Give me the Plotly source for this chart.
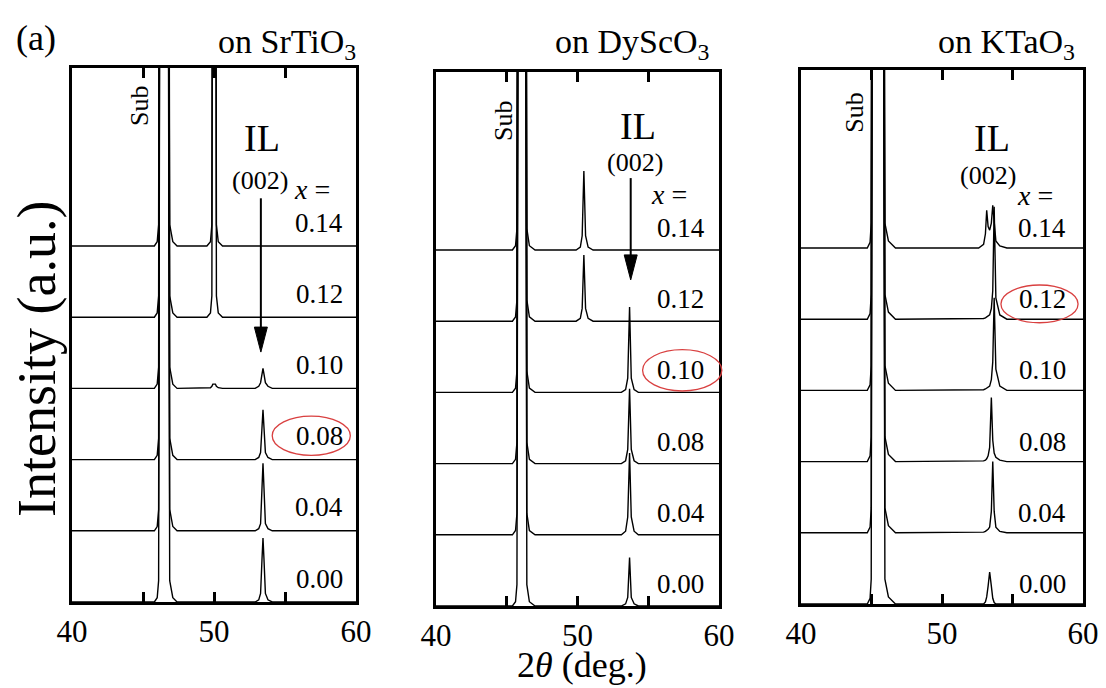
import plotly.graph_objects as go

# ---------------- data ----------------
compositions = ["0.00", "0.04", "0.08", "0.10", "0.12", "0.14"]
substrates = ["SrTiO<sub>3</sub>", "DyScO<sub>3</sub>", "KTaO<sub>3</sub>"]

# 2theta sampling points (deg) and intensity above each curve's own baseline
# (in units of the stacking step; values of 9 run off the top of the frame)
sto_two_theta = [40.0, 45.8, 46.0, 46.1, 46.18, 46.78, 46.88, 47.1, 47.4,
                 49.5, 49.75, 49.85, 49.92, 50.1, 50.17, 50.3, 50.6,
                 52.9, 53.15, 53.28, 53.38, 53.45, 53.52, 53.62, 53.8, 54.1, 60.0]
sto_x000 = [0, 0, 0.06, 0.3, 9, 9, 0.3, 0.06, 0,
            0, 0, 0, 0, 0, 0, 0, 0,
            0, 0.03, 0.12, 0.6, 0.9, 0.6, 0.12, 0.03, 0, 0]
sto_x004 = [0, 0, 0.06, 0.3, 9, 9, 0.3, 0.06, 0,
            0, 0, 0, 0, 0, 0, 0, 0,
            0, 0.03, 0.1, 0.6, 0.95, 0.6, 0.1, 0.03, 0, 0]
sto_x008 = [0, 0, 0.06, 0.3, 9, 9, 0.3, 0.06, 0,
            0, 0, 0, 0, 0, 0, 0, 0,
            0, 0.03, 0.1, 0.45, 0.7, 0.45, 0.1, 0.03, 0, 0]
sto_x010 = [0, 0, 0.06, 0.3, 9, 9, 0.3, 0.06, 0,
            0, 0.01, 0.03, 0.06, 0.06, 0.03, 0.01, 0,
            0, 0.03, 0.08, 0.18, 0.28, 0.2, 0.08, 0.03, 0, 0]
sto_x012 = [0, 0, 0.06, 0.3, 9, 9, 0.3, 0.06, 0,
            0, 0.06, 0.3, 9, 9, 0.3, 0.06, 0,
            0, 0, 0, 0, 0, 0, 0, 0, 0, 0]
sto_x014 = [0, 0, 0.06, 0.3, 9, 9, 0.3, 0.06, 0,
            0, 0.06, 0.3, 9, 9, 0.3, 0.06, 0,
            0, 0, 0, 0, 0, 0, 0, 0, 0, 0]

dso_two_theta = [40.0, 45.4, 45.62, 45.72, 45.8, 46.34, 46.42, 46.6, 47.0,
                 49.9, 50.2, 50.33, 50.45, 50.57, 50.75, 51.1,
                 53.1, 53.4, 53.55, 53.68, 53.8, 54.0, 54.3, 60.0]
dso_x000 = [0, 0, 0.06, 0.3, 9, 9, 0.3, 0.06, 0,
            0, 0, 0, 0, 0, 0, 0,
            0, 0.03, 0.12, 0.68, 0.12, 0.03, 0, 0]
dso_x004 = [0, 0, 0.06, 0.3, 9, 9, 0.3, 0.06, 0,
            0, 0, 0, 0, 0, 0, 0,
            0, 0.05, 0.25, 1.15, 0.25, 0.05, 0, 0]
dso_x008 = [0, 0, 0.06, 0.3, 9, 9, 0.3, 0.06, 0,
            0, 0, 0, 0, 0, 0, 0,
            0, 0.04, 0.2, 1.05, 0.2, 0.04, 0, 0]
dso_x010 = [0, 0, 0.06, 0.3, 9, 9, 0.3, 0.06, 0,
            0, 0, 0, 0, 0, 0, 0,
            0, 0.04, 0.2, 1.2, 0.2, 0.04, 0, 0]
dso_x012 = [0, 0, 0.06, 0.3, 9, 9, 0.3, 0.06, 0,
            0, 0.04, 0.18, 0.93, 0.18, 0.04, 0,
            0, 0, 0, 0, 0, 0, 0, 0]
dso_x014 = [0, 0, 0.06, 0.3, 9, 9, 0.3, 0.06, 0,
            0, 0.04, 0.2, 1.11, 0.2, 0.04, 0,
            0, 0, 0, 0, 0, 0, 0, 0]

kto_two_theta = [40.0, 44.7, 44.9, 44.98, 45.05, 45.85, 45.95, 46.2, 46.7,
                 52.6, 52.95, 53.08, 53.17, 53.27, 53.38, 53.5, 53.6, 53.7,
                 53.82, 54.1, 54.6, 60.0]
kto_x000 = [0, 0, 0.08, 0.35, 9, 9, 0.35, 0.1, 0,
            0, 0, 0.03, 0.1, 0.25, 0.45, 0.25, 0.08, 0.02, 0, 0, 0, 0]
kto_x004 = [0, 0, 0.08, 0.35, 9, 9, 0.35, 0.1, 0,
            0, 0.01, 0.02, 0.03, 0.05, 0.08, 0.3, 1.0, 0.3, 0.08, 0.02, 0, 0]
kto_x008 = [0, 0, 0.08, 0.35, 9, 9, 0.35, 0.1, 0,
            0, 0.01, 0.02, 0.04, 0.08, 0.2, 0.9, 0.3, 0.12, 0.06, 0.02, 0, 0]
kto_x010 = [0, 0, 0.08, 0.35, 9, 9, 0.35, 0.1, 0,
            0, 0.01, 0.02, 0.03, 0.04, 0.06, 0.15, 0.4, 1.3, 0.3, 0.06, 0, 0]
kto_x012 = [0, 0, 0.08, 0.35, 9, 9, 0.35, 0.1, 0,
            0, 0.01, 0.02, 0.03, 0.04, 0.06, 0.15, 0.4, 1.58, 0.3, 0.06, 0, 0]
kto_x014 = [0, 0, 0.08, 0.35, 9, 9, 0.35, 0.1, 0,
            0, 0.05, 0.2, 0.53, 0.3, 0.25, 0.35, 0.6, 0.3, 0.1, 0.03, 0, 0]

x_tick_vals = [40, 45, 50, 55, 60]
x_tick_text = ["40", "", "50", "", "60"]
highlighted = ["0.08", "0.10", "0.12"]   # circled composition per panel

panels = [
    (sto_two_theta, [sto_x000, sto_x004, sto_x008, sto_x010, sto_x012, sto_x014]),
    (dso_two_theta, [dso_x000, dso_x004, dso_x008, dso_x010, dso_x012, dso_x014]),
    (kto_two_theta, [kto_x000, kto_x004, kto_x008, kto_x010, kto_x012, kto_x014]),
]

# ---------------- layout geometry ----------------
W, H = 1106, 688
PAGE = 8          # the page body margin that shifts the figure inside the window
XR, YR = [40, 60], [0, 7.5]
# frame pixel boxes in window pixels: (left, right, top, bottom)
boxes = [(72, 356, 68, 602), (436, 719, 72, 606), (801, 1083, 70, 604)]

def px_to_paper(px, py):
    return (px - PAGE) / W, 1 - (py - PAGE) / H

def to_px(p, x, y):
    l, r, t, b = boxes[p]
    return (l + (x - XR[0]) / (XR[1] - XR[0]) * (r - l),
            b - (y - YR[0]) / (YR[1] - YR[0]) * (b - t))

def to_paper(p, x, y):
    return px_to_paper(*to_px(p, x, y))

SERIF = "Liberation Serif"
fig = go.Figure()

for p, (grid, rows) in enumerate(panels):
    suffix = "" if p == 0 else str(p + 1)
    for i, row in enumerate(rows):
        fig.add_trace(go.Scatter(
            x=grid, y=[v + i for v in row], mode="lines",
            line=dict(color="black", width=1.4),
            xaxis="x" + suffix, yaxis="y" + suffix,
            showlegend=False, hoverinfo="skip"))

layout = dict(width=W, height=H, margin=dict(l=0, r=0, t=0, b=0, autoexpand=False),
              autosize=False,
              paper_bgcolor="white", plot_bgcolor="white", showlegend=False)
for p in range(3):
    l, r, t, b = boxes[p]
    (x0, y0), (x1, y1) = px_to_paper(l, b), px_to_paper(r, t)
    suffix = "" if p == 0 else str(p + 1)
    layout["xaxis" + suffix] = dict(
        domain=[x0, x1], range=XR, anchor="y" + suffix, automargin=False,
        showgrid=False, zeroline=False, showline=True, linecolor="black",
        linewidth=3, mirror="ticks", ticks="inside", ticklen=10, tickwidth=3,
        tickcolor="black", tickvals=x_tick_vals, ticktext=x_tick_text,
        tickfont=dict(family=SERIF, size=31, color="black"))
    layout["yaxis" + suffix] = dict(
        domain=[y0, y1], range=YR, anchor="x" + suffix, automargin=False,
        showgrid=False, zeroline=False, showline=True, linecolor="black",
        linewidth=3, mirror=True, ticks="", showticklabels=False)
fig.update_layout(**layout)

ann = []
def text(p, x, y, s, size, angle=0):
    suffix = "" if p == 0 else str(p + 1)
    ann.append(dict(x=x, y=y, xref="x" + suffix, yref="y" + suffix, text=s,
                    showarrow=False, textangle=angle, xanchor="center",
                    yanchor="middle", font=dict(family=SERIF, size=size, color="black")))

def ptext(px, py, s, size, angle=0, xanchor="center"):
    xp, yp = px_to_paper(px, py)
    ann.append(dict(x=xp, y=yp, xref="paper", yref="paper", text=s, showarrow=False,
                    textangle=angle, xanchor=xanchor, yanchor="middle",
                    font=dict(family=SERIF, size=size, color="black")))

# per-panel label positions (data coords)
sub_pos = [(44.8, 6.97), (44.73, 6.81), (43.83, 6.9)]
il_pos = [(53.4, 6.52), (54.28, 6.74), (53.55, 6.54)]
hkl_pos = [(53.25, 5.92), (54.06, 6.23), (53.26, 6.02)]
xeq_pos = [(56.9, 5.80), (56.5, 5.78), (56.6, 5.74)]
val_x = [57.4, 57.3, 57.1]
val_dy = [0.33, 0.31, 0.28]
for p in range(3):
    text(p, *sub_pos[p], "Sub", 26, angle=-90)
    text(p, *il_pos[p], "IL", 38)
    text(p, *hkl_pos[p], "(002)", 26)
    text(p, *xeq_pos[p], "<i>x</i> =", 28)
    for i, c in enumerate(compositions):
        text(p, val_x[p], i + val_dy[p], c, 27)

# panel titles
title_right_px = [358, 712, 1077]
for p in range(3):
    ptext(title_right_px[p], 44, "on " + substrates[p], 34, xanchor="right")

ptext(36, 38, "(a)", 36)
ptext(37, 359, "Intensity (a.u.)", 54, angle=-90)
ptext(582, 665, "2<i>θ</i> (deg.)", 36)
fig.update_layout(annotations=ann)

shapes = []
# arrows (panel, x, tail y, tip y)
arrows = [(0, 53.3, 5.67, 3.51), (1, 53.76, 6.01, 4.58)]
HEAD_LEN, HEAD_W = 25, 13
for p, x, y0, y1 in arrows:
    tx, ty = to_px(p, x, y0)
    hx, hy = to_px(p, x, y1)
    a = px_to_paper(tx, ty)
    bpt = px_to_paper(hx, hy - HEAD_LEN + 2)
    shapes.append(dict(type="line", xref="paper", yref="paper", x0=a[0], y0=a[1],
                       x1=bpt[0], y1=bpt[1], line=dict(color="black", width=2)))
    p1 = px_to_paper(hx - HEAD_W / 2, hy - HEAD_LEN)
    p2 = px_to_paper(hx + HEAD_W / 2, hy - HEAD_LEN)
    p3 = px_to_paper(hx, hy)
    shapes.append(dict(type="path", xref="paper", yref="paper",
                       path=f"M{p1[0]},{p1[1]} L{p2[0]},{p2[1]} L{p3[0]},{p3[1]} Z",
                       fillcolor="black", line=dict(color="black", width=1)))

# red ellipses around highlighted compositions (panel, x0, x1, y0, y1)
ellipses = [(0, 54.1, 59.6, 2.06, 2.61), (1, 54.6, 60.2, 3.02, 3.60), (2, 54.18, 59.65, 3.95, 4.48)]
for p, x0, x1, y0, y1 in ellipses:
    a = to_paper(p, x0, y0)
    bpt = to_paper(p, x1, y1)
    shapes.append(dict(type="circle", xref="paper", yref="paper", x0=a[0], y0=a[1],
                       x1=bpt[0], y1=bpt[1], line=dict(color="#d94040", width=1.3)))
fig.update_layout(shapes=shapes)

fig.write_html("out.html")
